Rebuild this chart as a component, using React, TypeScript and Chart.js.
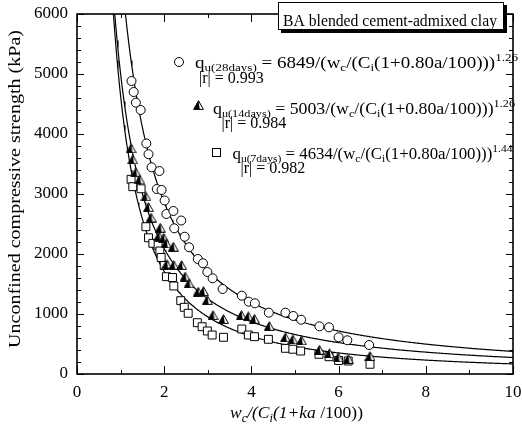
import React, { useEffect, useRef } from "react";
import { Chart, registerables } from "chart.js";

Chart.register(...registerables);

// ---- data ----
const x28 = [1.25, 1.30, 1.35, 1.46, 1.59, 1.64, 1.71, 1.89, 1.83, 1.94, 2.01, 2.05, 2.21, 2.23, 2.39, 2.47, 2.57, 2.77, 2.89, 2.99, 3.11, 3.34, 3.78, 3.94, 4.08, 4.40, 4.78, 4.96, 5.14, 5.56, 5.78, 6.00, 6.20, 6.70];
const q28 = [4883, 4700, 4522, 4400, 3842, 3663, 3445, 3383, 3083, 3067, 2892, 2667, 2717, 2428, 2558, 2288, 2112, 1917, 1845, 1700, 1595, 1417, 1305, 1205, 1178, 1022, 1022, 967, 905, 795, 778, 612, 562, 483];

const x14 = [1.24, 1.28, 1.35, 1.44, 1.58, 1.64, 1.70, 1.91, 1.88, 1.99, 2.05, 2.21, 2.06, 2.22, 2.40, 2.48, 2.57, 2.78, 2.90, 2.99, 3.12, 3.36, 3.77, 3.93, 4.07, 4.41, 4.78, 4.95, 5.15, 5.56, 5.79, 5.99, 6.22, 6.72];
const q14 = [3762, 3578, 3363, 3242, 2962, 2783, 2608, 2438, 2303, 2270, 2178, 2122, 1833, 1817, 1817, 1625, 1512, 1372, 1383, 1233, 983, 917, 983, 962, 920, 800, 612, 578, 562, 405, 345, 278, 250, 300];

const x7 = [1.24, 1.28, 1.47, 1.58, 1.64, 1.74, 1.86, 1.90, 1.93, 2.00, 2.05, 2.19, 2.22, 2.38, 2.46, 2.55, 2.76, 2.87, 2.99, 3.10, 3.36, 3.78, 3.93, 4.07, 4.39, 4.78, 4.95, 5.13, 5.55, 5.78, 6.00, 6.22, 6.72];
const q7 = [3245, 3122, 3087, 2455, 2270, 2178, 2145, 2050, 1942, 1808, 1622, 1608, 1467, 1222, 1112, 1012, 855, 788, 717, 650, 612, 750, 650, 622, 578, 428, 413, 383, 328, 288, 225, 217, 162];

// fitted curves q = A / x^B (as printed on the chart)
const fitLabels = ["28days", "14days", "7days"];
const fitA = [6849, 5003, 4634];
const fitB = ["1.26", "1.26", "1.44"];
const fitR = ["0.993", "0.984", "0.982"];

const xTickValues = [0, 1, 2, 3, 4, 5, 6, 7, 8, 9, 10];
const yTickValues = [0, 200, 400, 600, 800, 1000, 1200, 1400, 1600, 1800, 2000, 2200, 2400, 2600, 2800, 3000, 3200, 3400, 3600, 3800, 4000, 4200, 4400, 4600, 4800, 5000, 5200, 5400, 5600, 5800, 6000];

const titleText = "BA blended cement-admixed clay";
const yTitle = "Unconfined compressive strength (kPa)";

const FONT = '"Liberation Serif", "Times New Roman", serif';

type Part = { t: string; s: number; dy?: number; it?: boolean };

function partsWidth(ctx: CanvasRenderingContext2D, parts: Part[]) {
  let w = 0;
  for (const p of parts) {
    ctx.font = `${p.it ? "italic " : ""}${p.s}px ${FONT}`;
    w += ctx.measureText(p.t).width;
  }
  return w;
}

function drawParts(ctx: CanvasRenderingContext2D, x: number, y: number, parts: Part[], targetW?: number, rotate?: boolean, center?: boolean) {
  const w = partsWidth(ctx, parts);
  const sx = targetW ? targetW / w : 1;
  ctx.save();
  ctx.translate(x, y);
  if (rotate) ctx.rotate(-Math.PI / 2);
  ctx.scale(sx, 1);
  let cx = center ? -w / 2 : 0;
  ctx.fillStyle = "#000";
  ctx.textBaseline = "alphabetic";
  ctx.textAlign = "left";
  for (const p of parts) {
    ctx.font = `${p.it ? "italic " : ""}${p.s}px ${FONT}`;
    ctx.fillText(p.t, cx, p.dy || 0);
    cx += ctx.measureText(p.t).width;
  }
  ctx.restore();
}

function makeTriangle(): HTMLCanvasElement {
  const c = document.createElement("canvas");
  c.width = 11;
  c.height = 10;
  const g = c.getContext("2d")!;
  const outline = () => {
    g.beginPath();
    g.moveTo(5.5, 0.7);
    g.lineTo(10.4, 9.4);
    g.lineTo(0.6, 9.4);
    g.closePath();
  };
  outline();
  g.fillStyle = "#fff";
  g.fill();
  g.beginPath();
  g.moveTo(5.5, 0.7);
  g.lineTo(6.8, 9.4);
  g.lineTo(0.6, 9.4);
  g.closePath();
  g.fillStyle = "#000";
  g.fill();
  outline();
  g.lineWidth = 1;
  g.strokeStyle = "#000";
  g.stroke();
  return c;
}

export default function App() {
  const ref = useRef<HTMLCanvasElement>(null);

  useEffect(() => {
    const canvas = ref.current!;
    const tri = makeTriangle();

    const curve = (A: number, B: number) => {
      const pts: { x: number; y: number }[] = [];
      for (let i = 0; i <= 460; i++) {
        const x = 0.8 + i * 0.02;
        pts.push({ x, y: A / Math.pow(x, B) });
      }
      return pts;
    };

    const pts = (xs: number[], ys: number[]) => xs.map((x, i) => ({ x, y: ys[i] }));

    const deco = {
      id: "deco",
      afterDraw(chart: any) {
        const ctx: CanvasRenderingContext2D = chart.ctx;
        const { left, right, top, bottom } = chart.chartArea;
        const xs = chart.scales.x;
        const ys = chart.scales.y;
        ctx.save();
        ctx.strokeStyle = "#000";
        ctx.lineWidth = 1;
        ctx.beginPath();
        for (const v of xTickValues) {
          const len = v % 2 === 0 ? 8 : 4;
          const px = Math.round(xs.getPixelForValue(v)) + 0.5;
          ctx.moveTo(px, bottom);
          ctx.lineTo(px, bottom - len);
          ctx.moveTo(px, top);
          ctx.lineTo(px, top + len);
        }
        for (const v of yTickValues) {
          const len = v % 1000 === 0 ? 7 : 4;
          const py = Math.round(ys.getPixelForValue(v)) + 0.5;
          ctx.moveTo(left, py);
          ctx.lineTo(left + len, py);
          ctx.moveTo(right, py);
          ctx.lineTo(right - len, py);
        }
        ctx.stroke();
        ctx.lineWidth = 1.6;
        ctx.strokeRect(left, top, right - left, bottom - top);

        // title box with shadow
        ctx.fillStyle = "#000";
        ctx.fillRect(281, 5, 226, 28);
        ctx.fillStyle = "#fff";
        ctx.fillRect(278, 2, 226, 28);
        ctx.lineWidth = 1;
        ctx.strokeRect(278.5, 2.5, 225, 27);
        drawParts(ctx, 283, 26, [{ t: titleText, s: 16 }], 214);

        // legend-like annotations
        const marks = [
          { mx: 179, my: 62, qx: 195, qy: 68, rx: 199, ry: 83, w: 323 },
          { mx: 198.5, my: 105, qx: 213, qy: 114, rx: 221.5, ry: 128, w: 302 },
          { mx: 216.5, my: 152.5, qx: 232.5, qy: 159, rx: 240.5, ry: 173, w: 280 },
        ];
        marks.forEach((m, i) => {
          ctx.lineWidth = 1;
          ctx.strokeStyle = "#000";
          ctx.fillStyle = "#fff";
          if (i === 0) {
            ctx.beginPath();
            ctx.arc(m.mx, m.my, 4.5, 0, Math.PI * 2);
            ctx.fill();
            ctx.stroke();
          } else if (i === 1) {
            ctx.drawImage(tri, m.mx - 5.5, m.my - 5);
          } else {
            ctx.fillRect(m.mx - 4, m.my - 4, 8, 8);
            ctx.strokeRect(m.mx - 4, m.my - 4, 8, 8);
          }
          drawParts(
            ctx,
            m.qx,
            m.qy,
            [
              { t: "q", s: 16 },
              { t: `u(${fitLabels[i]})`, s: 11, dy: 3 },
              { t: ` = ${fitA[i]}/(w`, s: 16 },
              { t: "c", s: 11, dy: 3 },
              { t: "/(C", s: 16 },
              { t: "i", s: 11, dy: 3 },
              { t: "(1+0.80a/100)))", s: 16 },
              { t: fitB[i], s: 11, dy: -7 },
            ],
            m.w
          );
          drawParts(ctx, m.rx, m.ry, [{ t: `|r| = ${fitR[i]}`, s: 16 }]);
        });

        // axis titles
        drawParts(
          ctx,
          230,
          418,
          [
            { t: "w", s: 17, it: true },
            { t: "c", s: 12, it: true, dy: 4 },
            { t: "/(C", s: 17, it: true },
            { t: "i", s: 12, it: true, dy: 4 },
            { t: "(1+ka", s: 17, it: true },
            { t: " /100))", s: 17 },
          ],
          133
        );
        drawParts(ctx, 20, 189, [{ t: yTitle, s: 16 }], 318, true, true);
        ctx.restore();
      },
    };

    const chart = new Chart(canvas, {
      type: "scatter",
      data: {
        datasets: [
          {
            label: "28 days",
            data: pts(x28, q28),
            pointStyle: "circle",
            pointRadius: 4.5,
            pointBackgroundColor: "#fff",
            pointBorderColor: "#000",
            pointBorderWidth: 1,
            order: 1,
          },
          {
            label: "14 days",
            data: pts(x14, q14),
            pointStyle: tri as any,
            order: 2,
          },
          {
            label: "7 days",
            data: pts(x7, q7),
            pointStyle: "rect",
            pointRadius: 5.6,
            pointBackgroundColor: "#fff",
            pointBorderColor: "#000",
            pointBorderWidth: 1,
            order: 3,
          },
          ...fitA.map((A, i) => ({
            type: "line" as const,
            label: `fit ${fitLabels[i]}`,
            data: curve(A, parseFloat(fitB[i])),
            borderColor: "#000",
            borderWidth: 1.2,
            pointRadius: 0,
            showLine: true,
            fill: false,
            tension: 0,
            order: 10 + i,
          })),
        ],
      } as any,
      options: {
        responsive: false,
        animation: false,
        devicePixelRatio: 1,
        layout: { padding: { left: 0, top: 14, right: 9, bottom: 0 } },
        plugins: { legend: { display: false }, tooltip: { enabled: false }, title: { display: false } },
        scales: {
          x: {
            type: "linear",
            min: 0,
            max: 10,
            grid: { display: false },
            border: { display: false },
            ticks: {
              stepSize: 2,
              padding: 0,
              color: "#000",
              font: { family: FONT, size: 17 },
              callback: (v: any) => String(v),
            },
            afterFit: (s: any) => {
              s.height = 53;
            },
          },
          y: {
            type: "linear",
            min: 0,
            max: 6000,
            grid: { display: false },
            border: { display: false },
            ticks: {
              stepSize: 1000,
              padding: 1,
              color: "#000",
              font: { family: FONT, size: 17 },
              callback: (v: any) => String(v),
            },
            afterFit: (s: any) => {
              s.width = 77;
            },
          },
        },
      } as any,
      plugins: [deco],
    });

    return () => chart.destroy();
  }, []);

  return (
    <div style={{ position: "fixed", left: 0, top: 0, width: 522, height: 427, background: "#fff" }}>
      <canvas ref={ref} width={522} height={427} style={{ width: 522, height: 427, display: "block" }} />
    </div>
  );
}
